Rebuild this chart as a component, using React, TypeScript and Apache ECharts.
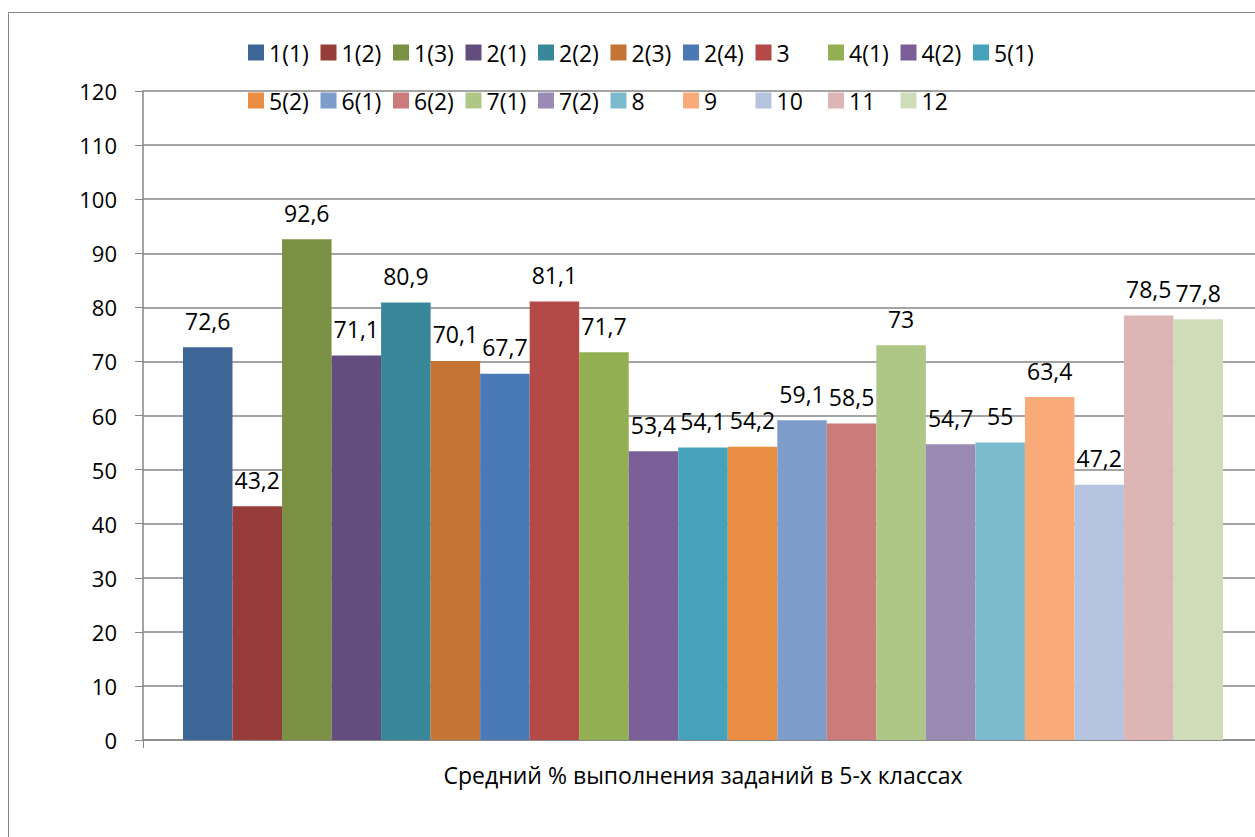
import React, { useEffect, useRef } from "react";
import * as echarts from "echarts";

const categories = ["Средний % выполнения заданий в 5-х классах"];
const seriesNames = [
  "1(1)", "1(2)", "1(3)", "2(1)", "2(2)", "2(3)", "2(4)", "3", "4(1)", "4(2)", "5(1)",
  "5(2)", "6(1)", "6(2)", "7(1)", "7(2)", "8", "9", "10", "11", "12",
];
const seriesValues = [
  72.6, 43.2, 92.6, 71.1, 80.9, 70.1, 67.7, 81.1, 71.7, 53.4, 54.1,
  54.2, 59.1, 58.5, 73, 54.7, 55, 63.4, 47.2, 78.5, 77.8,
];
const seriesColors = [
  "#3D6596", "#973C3B", "#7A9143", "#634C7E", "#388899", "#C47533", "#4A7AB5", "#B34A48", "#92B052", "#7A5F99", "#46A1BA",
  "#E98D43", "#7F9DCA", "#CB7B7A", "#AEC686", "#9B8AB4", "#7CBACD", "#F8AB79", "#B5C4DE", "#DEB5B5", "#CFDCBA",
];
const yMin = 0;
const yMax = 120;
const yInterval = 10;
const legendPerRow = 11;

const FONT = "'Open Sans', 'DejaVu Sans', sans-serif";
const GRAY = "#868686";

export default function App() {
  const ref = useRef<HTMLDivElement>(null);

  useEffect(() => {
    if (!ref.current) return;
    const chart = echarts.init(ref.current, undefined, { renderer: "svg" });
    const legends = seriesNames.map((name, i) => {
      const row = Math.floor(i / legendPerRow);
      const col = i % legendPerRow;
      return {
        orient: "horizontal",
        icon: "rect",
        itemWidth: 16,
        itemHeight: 16,
        selectedMode: false,
        padding: 0,
        data: [name],
        left: 248 + col * 72.5,
        top: 41 + row * 48,
        textStyle: { fontSize: 23, fontFamily: FONT, color: "#000" },
      };
    });
    chart.setOption({
      animation: false,
      backgroundColor: "#fff",
      textStyle: { fontFamily: FONT },
      grid: { left: 143, top: 91, right: 37, bottom: 110 },
      legend: legends,
      graphic: [
        {
          type: "rect",
          shape: { x: 8.5, y: 12.5, width: 1400, height: 1000 },
          style: { fill: "none", stroke: GRAY, lineWidth: 1 },
          silent: true,
          z: -1,
        },
      ],
      xAxis: {
        type: "category",
        data: categories,
        axisLine: { show: true, lineStyle: { color: GRAY, width: 1.5 } },
        axisTick: { show: true, length: 8, inside: false, lineStyle: { color: GRAY } },
        axisLabel: { fontSize: 23, color: "#000", margin: 23, fontFamily: FONT },
        splitLine: { show: false },
      },
      yAxis: {
        type: "value",
        min: yMin,
        max: yMax,
        interval: yInterval,
        axisLine: { show: true, lineStyle: { color: GRAY, width: 1.5 } },
        axisTick: { show: true, length: 8, inside: false, lineStyle: { color: GRAY } },
        axisLabel: { fontSize: 22, color: "#000", margin: 26, fontFamily: FONT },
        splitLine: { show: true, lineStyle: { color: GRAY, width: 1.5 } },
      },
      series: seriesNames.map((name, i) => ({
        type: "bar",
        name,
        data: [seriesValues[i]],
        barGap: "0%",
        barCategoryGap: "7.14%",
        itemStyle: { color: seriesColors[i] },
        label: {
          show: true,
          position: "top",
          distance: 15,
          fontSize: 23,
          color: "#000",
          fontFamily: FONT,
          formatter: (p: any) => String(p.value).replace(".", ","),
        },
      })),
    });
    return () => chart.dispose();
  }, []);

  return (
    <div
      style={{
        position: "fixed",
        left: 0,
        top: 0,
        width: 1255,
        height: 837,
        overflow: "hidden",
        background: "#fff",
      }}
    >
      <div ref={ref} style={{ width: 1300, height: 850 }} />
    </div>
  );
}
